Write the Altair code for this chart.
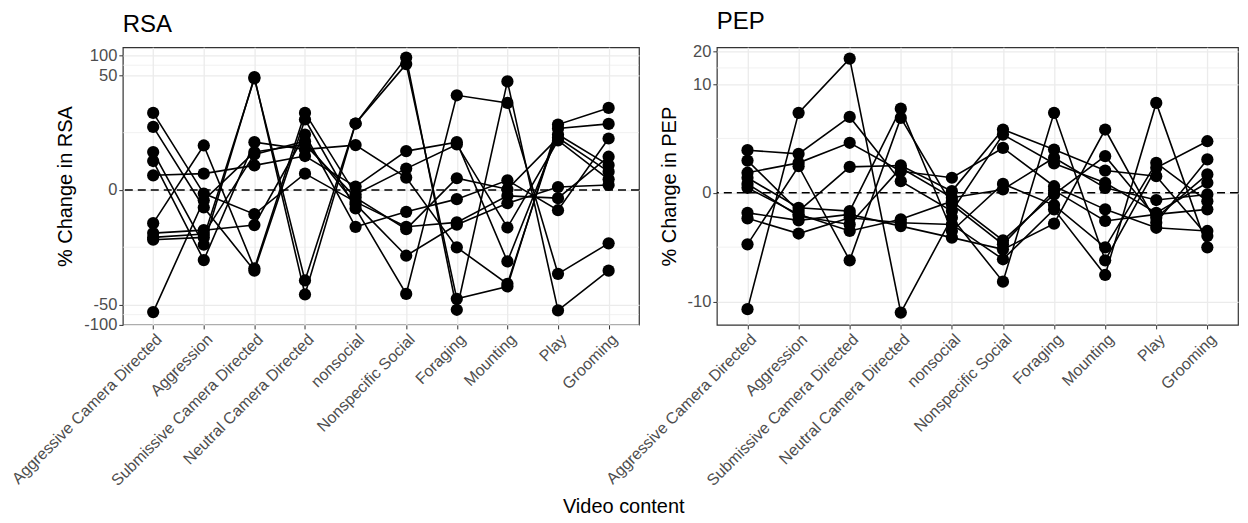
import math
import altair as alt
import pandas as pd

categories = ["Aggressive Camera Directed", "Aggression", "Submissive Camera Directed",
              "Neutral Camera Directed", "nonsocial", "Nonspecific Social", "Foraging",
              "Mounting", "Play", "Grooming"]

# % change in RSA, one list per subject (values across the 10 video contents)
rsa_s1 = [13.8, -0.25, -1.85, 1.17, -0.84, -3.24, -2.70, -0.41, -0.57, 2.79]
rsa_s2 = [8.5, -1.27, -15.7, 11.0, -1.35, -34.8, 25.3, 19.5, -17.5, -6.04]
rsa_s3 = [3.37, -6.34, 47.0, -35.5, 9.56, 92.0, -59.9, 40.7, -61.3, -15.7]
rsa_s4 = [2.31, -10.9, 4.92, 3.74, 4.41, 0.87, -6.97, -24.7, 8.03, 9.44]
rsa_s5 = [1.04, 1.17, 1.88, 2.87, 0.23, 3.50, 4.92, -11.4, 6.49, 1.91]
rsa_s6 = [-2.79, 4.35, -14.5, 13.8, -0.30, 1.59, 4.52, -3.33, 5.23, 0.74]
rsa_s7 = [-4.14, -3.70, -3.02, 6.49, -3.24, -1.64, -0.64, 0.67, -1.50, 5.62]
rsa_s8 = [-5.30, -4.86, 45.0, -22.0, 9.56, 73.5, -41.2, -27.0, 9.23, 16.4]
rsa_s9 = [-64.8, -0.72, 3.37, 4.52, -0.53, -3.56, 0.82, 0.05, 5.76, 1.33]
rsa_s10 = [-4.86, -4.30, 3.07, 5.10, -1.01, -9.35, -2.98, -0.94, 0.20, 0.34]

# % change in PEP, one list per subject
pep_s1 = [-11.8, 5.29, 17.3, -12.7, -1.11, -6.47, 5.29, -3.97, 1.11, 2.66]
pep_s2 = [2.07, 1.85, 4.82, 0.50, -0.80, 3.16, 1.33, 0.43, -0.88, 0.43]
pep_s3 = [1.48, -0.80, 1.16, 1.23, 0.07, 3.58, 2.11, 0.98, 0.72, -2.11]
pep_s4 = [0.88, 1.36, 2.55, 0.95, 0.65, 2.21, 0.28, -0.72, -1.63, -1.81]
pep_s5 = [0.65, -0.65, -0.80, 5.82, -1.81, 0.38, -0.53, -2.88, 1.36, -0.36]
pep_s6 = [0.38, -1.03, -1.45, 1.11, -0.21, 0.14, 1.63, 0.21, -0.31, -0.07]
pep_s7 = [0.21, -0.95, -1.81, -1.19, -0.36, -2.39, -0.07, 1.72, -1.11, 0.80]
pep_s8 = [-0.88, -1.24, -0.95, -1.54, -2.21, -3.03, -1.41, 3.58, -1.36, 1.54]
pep_s9 = [-1.14, -1.96, -1.11, -1.36, -1.45, -3.87, -0.72, -5.57, 6.61, -2.88]
pep_s10 = [-2.66, 1.19, -3.97, 4.71, -0.50, -2.66, 0.10, -1.27, -0.95, -0.72]

rsa_subjects = [rsa_s1, rsa_s2, rsa_s3, rsa_s4, rsa_s5, rsa_s6, rsa_s7, rsa_s8, rsa_s9, rsa_s10]
pep_subjects = [pep_s1, pep_s2, pep_s3, pep_s4, pep_s5, pep_s6, pep_s7, pep_s8, pep_s9, pep_s10]

rsa_breaks = [-100, -50, 0, 50, 100]
pep_breaks = [-10, 0, 10, 20]

FONT = "Liberation Sans"
GRID = "#ebebeb"
PSEUDO_LOG = "log(datum.value / 2 + sqrt(datum.value * datum.value / 4 + 1))"


def tr(v):
    return math.asinh(v / 2)


def minor_breaks(breaks, lo, hi):
    t = [tr(b) for b in breaks]
    out = []
    for a, b in zip(t[:-1], t[1:]):
        out.append((a + b) / 2)
    out.append(t[0] - (t[1] - t[0]) / 2)
    out.append(t[-1] + (t[-1] - t[-2]) / 2)
    return [m for m in out if lo <= m <= hi]


def panel(subjects, title, ytitle, breaks, domain, width):
    rows = []
    for si, vals in enumerate(subjects):
        for ci, (c, v) in enumerate(zip(categories, vals)):
            rows.append({"subject": f"S{si + 1}", "content": c, "idx": ci, "value": v})
    df = pd.DataFrame(rows)
    major_t = [tr(b) for b in breaks]
    minor_df = pd.DataFrame({"m": minor_breaks(breaks, domain[0], domain[1])})

    yscale = alt.Scale(domain=domain, nice=False, zero=False)
    xscale = alt.Scale(domain=categories, padding=0.6)

    base = alt.Chart(df).transform_calculate(t=PSEUDO_LOG)

    x_enc = alt.X("content:N", sort=categories, scale=xscale, title=None,
                  axis=alt.Axis(labelAngle=-45, labelAlign="right", labelBaseline="top",
                                labelFontSize=16, labelColor="#4d4d4d", labelPadding=2,
                                grid=True, gridColor=GRID, gridWidth=1.3,
                                tickColor="#333333", tickSize=4, tickWidth=1,
                                domain=False, labelFont=FONT, labelLimit=400))
    y_enc = alt.Y("t:Q", scale=yscale, title=ytitle,
                  axis=alt.Axis(values=major_t,
                                labelExpr="'' + round(exp(datum.value) - exp(-datum.value))",
                                labelFontSize=16.5, labelColor="#4d4d4d", labelPadding=2,
                                grid=True, gridColor=GRID, gridWidth=1.3,
                                tickColor="#333333", tickSize=4, tickWidth=1,
                                domain=False, titleFontSize=20, titleFontWeight="normal",
                                titleColor="black", titlePadding=8, titleFont=FONT,
                                labelFont=FONT))

    minor = alt.Chart(minor_df).mark_rule(color=GRID, strokeWidth=0.7).encode(
        y=alt.Y("m:Q", scale=yscale))
    zero = alt.Chart(pd.DataFrame({"z": [0.0]})).mark_rule(
        color="black", strokeDash=[8, 5], strokeWidth=1.4).encode(
        y=alt.Y("z:Q", scale=yscale))
    lines = base.mark_line(color="black", strokeWidth=1.6).encode(
        x=x_enc, y=y_enc, detail="subject:N", order=alt.Order("idx:Q"))
    points = base.mark_point(filled=True, color="black", size=150, opacity=1).encode(
        x=alt.X("content:N", sort=categories, scale=xscale),
        y=alt.Y("t:Q", scale=yscale))

    return alt.layer(minor, zero, lines, points).properties(
        width=width, height=278,
        view=alt.ViewBackground(stroke="#333333", strokeWidth=1.2, fill="white"),
        title=alt.TitleParams(title, anchor="start", frame="group", fontSize=24,
                              fontWeight="normal", font=FONT, color="black", offset=10))


left = panel(rsa_subjects, "RSA", "% Change in RSA", rsa_breaks, [-4.61, 4.87], 517)
right = panel(pep_subjects, "PEP", "% Change in PEP", pep_breaks, [-2.81, 3.093], 522)

chart = alt.hconcat(left, right, spacing=78, bounds="flush").properties(
    title=alt.TitleParams("Video content", orient="bottom", anchor="middle", fontSize=20,
                          fontWeight="normal", font=FONT, color="black", offset=8),
    padding={"left": 0, "top": 0, "right": 0, "bottom": 0},
).configure_view(stroke="#333333", strokeWidth=1.2).configure(font=FONT)

chart.save("out.html", embed_options={"renderer": "svg", "actions": False})
